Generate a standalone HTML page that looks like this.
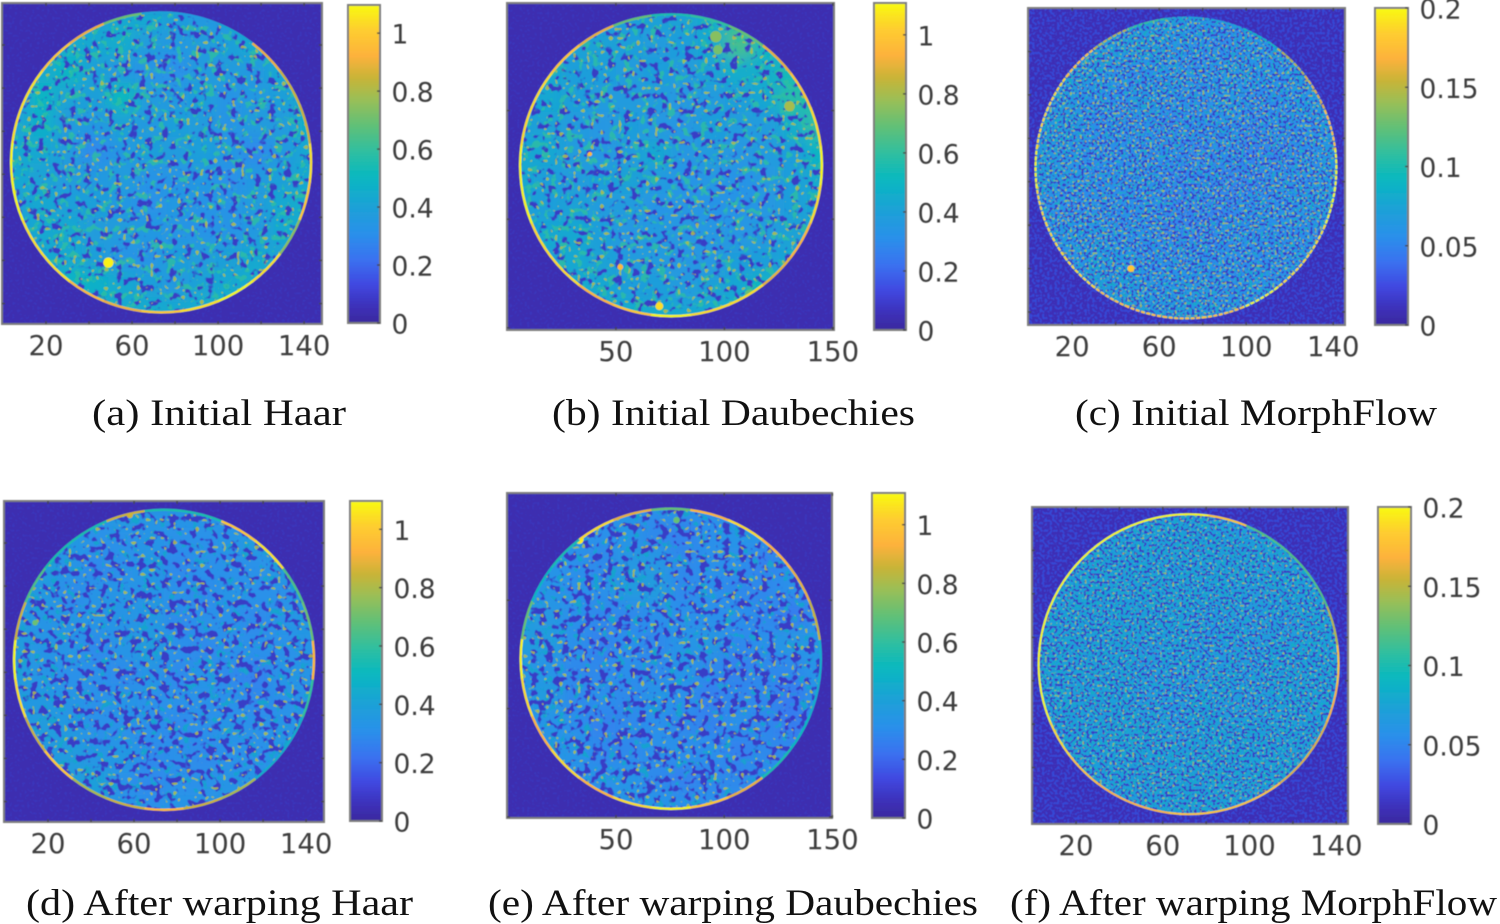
<!DOCTYPE html>
<html lang="en">
<head>
<meta charset="utf-8">
<title>Wavelet and MorphFlow error maps</title>
<style>
html,body{margin:0;padding:0;background:#fff;width:1500px;height:924px;overflow:hidden}
svg{display:block}
.tick{font-family:"DejaVu Sans","Liberation Sans",sans-serif;font-size:26.5px;fill:#3c3c3c}
.tick.xl{font-size:27.5px}
.cap{font-family:"Liberation Serif",serif;font-size:37px;fill:#111}
</style>
</head>
<body>
<svg id="root" xmlns="http://www.w3.org/2000/svg" width="1500" height="924" viewBox="0 0 1500 924">
<defs id="defs"></defs>
<rect x="0" y="0" width="1500" height="924" fill="#fff"/>
<g id="panels"></g>
<text class="cap" x="92" y="425" textLength="254" lengthAdjust="spacingAndGlyphs">(a) Initial Haar</text>
<text class="cap" x="552" y="425" textLength="363" lengthAdjust="spacingAndGlyphs">(b) Initial Daubechies</text>
<text class="cap" x="1075" y="425" textLength="362" lengthAdjust="spacingAndGlyphs">(c) Initial MorphFlow</text>
<text class="cap" x="26" y="915" textLength="387" lengthAdjust="spacingAndGlyphs">(d) After warping Haar</text>
<text class="cap" x="488" y="915" textLength="490" lengthAdjust="spacingAndGlyphs">(e) After warping Daubechies</text>
<text class="cap" x="1010" y="915" textLength="487" lengthAdjust="spacingAndGlyphs">(f) After warping MorphFlow</text>
</svg>
<script>
/* ---------- chart data: values ---------- */
const xTicks140 = [20, 60, 100, 140];
const xTicks150 = [50, 100, 150];
const colorTicksWavelet = [0, 0.2, 0.4, 0.6, 0.8, 1];
const colorTicksFlow = [0, 0.05, 0.1, 0.15, 0.2];
const colorTickLabelsWavelet = ["0", "0.2", "0.4", "0.6", "0.8", "1"];
const colorTickLabelsFlow = ["0", "0.05", "0.1", "0.15", "0.2"];

const cellsInitialHaar = [
[.33,.33,.33,.39,.43,.43,.39,.35,.33,.33,.33,.33],
[.33,.33,.45,.43,.45,.37,.35,.37,.39,.45,.33,.33],
[.35,.43,.49,.39,.35,.33,.31,.37,.37,.35,.43,.43],
[.37,.49,.41,.39,.51,.37,.35,.39,.33,.35,.39,.45],
[.41,.47,.37,.35,.41,.35,.39,.37,.33,.37,.37,.47],
[.43,.43,.37,.29,.35,.39,.37,.39,.35,.29,.35,.43],
[.43,.41,.37,.35,.37,.33,.33,.35,.31,.35,.39,.43],
[.39,.43,.39,.39,.35,.31,.35,.33,.33,.37,.43,.45],
[.39,.43,.43,.37,.37,.35,.33,.33,.33,.35,.43,.45],
[.37,.43,.43,.39,.33,.33,.39,.37,.39,.43,.41,.43],
[.37,.37,.49,.47,.43,.39,.35,.41,.43,.45,.43,.37],
[.33,.37,.43,.45,.43,.45,.43,.45,.49,.43,.37,.33]];
const cellsInitialDaubechies = [
[.33,.33,.33,.37,.39,.41,.41,.46,.60,.43,.33,.33],
[.33,.33,.41,.41,.39,.37,.39,.44,.64,.50,.33,.33],
[.33,.43,.39,.39,.37,.39,.37,.41,.46,.46,.54,.33],
[.39,.43,.39,.37,.37,.37,.35,.37,.39,.43,.58,.56],
[.39,.41,.37,.35,.39,.35,.35,.39,.37,.37,.46,.60],
[.43,.43,.37,.35,.37,.43,.35,.37,.35,.37,.39,.50],
[.43,.39,.37,.39,.41,.37,.33,.35,.33,.35,.39,.45],
[.41,.39,.41,.37,.37,.33,.35,.33,.33,.35,.39,.43],
[.39,.43,.43,.39,.35,.37,.35,.35,.35,.37,.41,.41],
[.37,.41,.43,.41,.37,.37,.35,.35,.39,.39,.43,.39],
[.33,.39,.45,.43,.39,.39,.37,.41,.43,.52,.50,.33],
[.33,.33,.41,.43,.47,.45,.43,.45,.52,.46,.33,.33]];
const cellsInitialFlow = [
[.055,.055,.055,.06,.065,.065,.06,.055,.055,.055,.055,.055],
[.055,.055,.065,.065,.065,.06,.055,.055,.06,.06,.055,.055],
[.055,.065,.065,.055,.055,.06,.055,.06,.06,.055,.065,.055],
[.06,.065,.055,.055,.065,.055,.055,.06,.055,.055,.06,.065],
[.065,.065,.055,.055,.055,.05,.055,.055,.05,.055,.055,.06],
[.065,.06,.055,.055,.055,.055,.05,.055,.05,.05,.055,.06],
[.065,.06,.055,.055,.055,.05,.055,.05,.05,.055,.055,.06],
[.06,.055,.055,.055,.055,.05,.05,.05,.055,.055,.06,.06],
[.06,.06,.06,.055,.055,.05,.05,.055,.055,.055,.055,.06],
[.055,.055,.065,.06,.055,.055,.055,.055,.055,.055,.06,.055],
[.055,.055,.065,.065,.06,.06,.06,.055,.06,.055,.055,.055],
[.055,.055,.055,.065,.065,.065,.065,.06,.06,.055,.055,.055]];
const cellsWarpedHaar = [
[.31,.31,.31,.33,.37,.33,.33,.33,.31,.31,.31,.31],
[.31,.31,.35,.31,.31,.33,.31,.31,.33,.37,.31,.31],
[.31,.37,.33,.29,.31,.35,.29,.31,.31,.31,.37,.31],
[.35,.35,.29,.33,.33,.33,.31,.29,.33,.31,.31,.35],
[.37,.33,.33,.33,.33,.35,.29,.31,.31,.29,.33,.35],
[.37,.33,.33,.29,.33,.37,.31,.29,.31,.31,.31,.33],
[.37,.33,.31,.31,.29,.33,.29,.33,.29,.27,.33,.33],
[.35,.35,.33,.31,.33,.31,.31,.31,.31,.29,.31,.33],
[.35,.37,.35,.31,.31,.31,.29,.31,.33,.31,.33,.33],
[.33,.35,.37,.33,.35,.29,.31,.29,.31,.31,.35,.31],
[.31,.35,.37,.39,.31,.29,.31,.31,.33,.33,.33,.31],
[.31,.31,.35,.37,.33,.31,.33,.33,.35,.33,.31,.31]];
const cellsWarpedDaubechies = [
[.29,.29,.29,.31,.33,.31,.35,.31,.29,.29,.29,.29],
[.29,.29,.35,.31,.33,.29,.27,.31,.33,.33,.29,.29],
[.29,.33,.31,.29,.35,.35,.29,.31,.31,.27,.31,.29],
[.33,.33,.31,.31,.37,.37,.29,.31,.29,.29,.31,.29],
[.37,.35,.31,.29,.29,.31,.31,.31,.31,.29,.25,.31],
[.37,.37,.31,.27,.31,.29,.33,.35,.29,.31,.35,.33],
[.35,.33,.29,.29,.31,.29,.33,.29,.27,.29,.29,.33],
[.33,.37,.29,.31,.29,.33,.31,.27,.29,.29,.25,.33],
[.33,.33,.31,.27,.29,.31,.29,.27,.31,.29,.25,.31],
[.29,.33,.33,.29,.29,.31,.31,.31,.27,.29,.29,.29],
[.29,.31,.31,.31,.33,.29,.27,.29,.29,.31,.31,.29],
[.29,.29,.31,.35,.33,.33,.31,.31,.31,.31,.29,.29]];
const cellsWarpedFlow = [
[.062,.062,.062,.065,.07,.07,.07,.065,.062,.062,.062,.062],
[.062,.062,.07,.07,.07,.07,.07,.07,.07,.07,.062,.062],
[.062,.07,.07,.07,.07,.07,.07,.07,.07,.07,.07,.062],
[.065,.07,.07,.07,.07,.07,.07,.07,.065,.07,.07,.07],
[.07,.07,.07,.07,.07,.07,.065,.065,.065,.065,.07,.07],
[.07,.07,.07,.07,.065,.07,.065,.065,.065,.07,.07,.07],
[.07,.07,.07,.07,.065,.065,.065,.07,.065,.07,.07,.07],
[.07,.07,.07,.07,.065,.065,.07,.065,.065,.07,.07,.07],
[.065,.07,.07,.074,.07,.065,.07,.07,.07,.07,.07,.065],
[.062,.07,.07,.07,.07,.07,.07,.07,.07,.07,.07,.062],
[.062,.062,.07,.07,.07,.07,.07,.07,.07,.07,.062,.062],
[.062,.062,.062,.065,.07,.07,.07,.07,.065,.062,.062,.062]];

/* rim values, one per 15 degree sector, clockwise from east */
const rimInitialHaar = [1.05,1,.75,1.05,1.1,1.05,1,.9,.95,1.05,1.05,1.1,1.1,1.05,1.05,1,.9,.7,.4,.36,.42,.9,.85,.85];
const rimInitialDaubechies = [1.1,1.05,.95,.9,1.05,1.05,1.1,1,.95,1.05,1.05,1.1,1.1,1.05,1.05,1,.9,.7,.55,.6,.7,.9,1,1.05];
const rimInitialFlow = [.2,.2,.19,.19,.2,.18,.18,.18,.18,.19,.19,.19,.2,.19,.19,.18,.15,.11,.075,.075,.09,.15,.16,.18];
const rimWarpedHaar = [.95,.6,.45,.45,.8,.85,.95,.85,.8,1,.85,1.05,1.1,.85,.65,.55,.55,.85,.55,.55,1,1.05,.65,.7];
const rimWarpedDaubechies = [.45,.45,.5,.55,.9,1,1.1,1.05,.95,1.05,.95,1.05,1.1,.7,.5,.55,1.05,.9,.7,.95,1.05,.95,.9,.85];
const rimWarpedFlow = [.18,.17,.16,.16,.18,.18,.18,.17,.17,.18,.19,.2,.2,.2,.2,.2,.2,.2,.2,.18,.12,.12,.12,.15];

/* hot spots: x, y, value, radius (image units) */
const spotsInitialHaar = [[49,121,1.08,2.4]];
const spotsInitialDaubechies = [[70,140,1.05,1.8],[52,122,.95,1.3],[38,70,.95,1],[96,16,.75,2.6],[97,22,.72,2.2],[130,48,.8,2.4],[112,135,.7,2.6]];
const spotsInitialFlow = [[47,120,.18,1.6]];
const spotsWarpedHaar = [[14,57,.7,1.3],[58,7,.85,1.5]];
const spotsWarpedDaubechies = [[33,22,1.08,2],[62,7,1,1.4],[78,13,.7,1.5]];
const spotsWarpedFlow = [];

const backgroundLevels = [0.038, 0.038, 0.009, 0.038, 0.038, 0.009];

/* ---------- parula colour map ---------- */
const cmapStops = [[0,"#3a2a9e"],[.05,"#3d30b8"],[.12,"#4048e0"],[.2,"#3a72f0"],[.28,"#2a90ea"],[.36,"#1ea0d8"],[.46,"#08b8c0"],[.54,"#30bfa0"],[.62,"#60c078"],[.7,"#98bf58"],[.77,"#c8b438"],[.84,"#fdb23c"],[.92,"#fecd30"],[1,"#f8fa10"]];
function hexRgb(h){return [1,3,5].map(i=>parseInt(h.substr(i,2),16));}
function cmap(t){
  t=Math.max(0,Math.min(1,t));
  for(let i=1;i<cmapStops.length;i++){
    if(t<=cmapStops[i][0]){
      const a=cmapStops[i-1],b=cmapStops[i],k=(t-a[0])/(b[0]-a[0]);
      const ca=hexRgb(a[1]),cb=hexRgb(b[1]);
      return "rgb("+ca.map((v,j)=>Math.round(v+(cb[j]-v)*k)).join(",")+")";
    }
  }
  return cmapStops[cmapStops.length-1][1];
}

/* ---------- layout ---------- */
const panels = [
 {key:"a",ax:[2,3,322,324],xlim:[-0.47,148.33],ylim:[0.5,149.5],disk:[73.5,74.5,70.2],cb:[348,380,5,323],max:1.097,xt:xTicks140,ct:colorTicksWavelet,cl:colorTickLabelsWavelet,cells:cellsInitialHaar,rim:rimInitialHaar,spots:spotsInitialHaar,flow:false},
 {key:"b",ax:[507,3,834,330],xlim:[-0.2,150.5],ylim:[0.5,151],disk:[75.4,75.2,70],cb:[874,906,3,330],max:1.108,xt:xTicks150,ct:colorTicksWavelet,cl:colorTickLabelsWavelet,cells:cellsInitialDaubechies,rim:rimInitialDaubechies,spots:spotsInitialDaubechies,flow:false},
 {key:"c",ax:[1028,8,1345,325],xlim:[-0.3,145.4],ylim:[0,146],disk:[72.3,73.7,69.6],cb:[1375,1408,8,325],max:0.2,xt:xTicks140,ct:colorTicksFlow,cl:colorTickLabelsFlow,cells:cellsInitialFlow,rim:rimInitialFlow,spots:spotsInitialFlow,flow:true},
 {key:"d",ax:[4,501,324,822],xlim:[-0.47,148.33],ylim:[0.5,149.5],disk:[73.95,74.2,70.2],cb:[350,382,501,821],max:1.097,xt:xTicks140,ct:colorTicksWavelet,cl:colorTickLabelsWavelet,cells:cellsWarpedHaar,rim:rimWarpedHaar,spots:spotsWarpedHaar,flow:false},
 {key:"e",ax:[507,493,832,818],xlim:[-0.35,149.8],ylim:[0.5,150.5],disk:[75.33,77,69.8],cb:[872,905,493,818],max:1.108,xt:xTicks150,ct:colorTicksWavelet,cl:colorTickLabelsWavelet,cells:cellsWarpedDaubechies,rim:rimWarpedDaubechies,spots:spotsWarpedDaubechies,flow:false},
 {key:"f",ax:[1032,507,1348,824],xlim:[-0.3,145.4],ylim:[0,146],disk:[71.9,72.4,69.6],cb:[1378,1411,507,824],max:0.2,xt:xTicks140,ct:colorTicksFlow,cl:colorTickLabelsFlow,cells:cellsWarpedFlow,rim:rimWarpedFlow,spots:spotsWarpedFlow,flow:true}
];

const NS="http://www.w3.org/2000/svg";
function mk(tag,attrs,parent){
  const e=document.createElementNS(NS,tag);
  for(const k in attrs)e.setAttribute(k,attrs[k]);
  parent.appendChild(e);
  return e;
}
const defs=document.getElementById("defs");
const host=document.getElementById("panels");

/* shared filters */
defs.innerHTML='<filter id="soft" x="-5%" y="-5%" width="110%" height="110%"><feGaussianBlur stdDeviation="0.4"/></filter>'+
 '<filter id="cellBlur" x="-5%" y="-5%" width="110%" height="110%"><feGaussianBlur stdDeviation="7"/></filter>';
function noiseFilter(id,freq,octaves,seed,k,t,rgb){
  return '<filter id="'+id+'" x="0" y="0" width="100%" height="100%" color-interpolation-filters="sRGB">'+
   '<feTurbulence type="fractalNoise" baseFrequency="'+freq+'" numOctaves="'+octaves+'" seed="'+seed+'"/>'+
   '<feColorMatrix type="matrix" values="0 0 0 0 '+rgb[0]/255+' 0 0 0 0 '+rgb[1]/255+' 0 0 0 0 '+rgb[2]/255+' '+k+' 0 0 0 '+(-k*t)+'"/></filter>';
}

panels.forEach((p,pi)=>{
  const [x0,y0,x1,y1]=p.ax;
  const xScale=v=>x0+(v-p.xlim[0])/(p.xlim[1]-p.xlim[0])*(x1-x0);
  const yScale=v=>y0+(v-p.ylim[0])/(p.ylim[1]-p.ylim[0])*(y1-y0);
  const rScale=v=>v/(p.xlim[1]-p.xlim[0])*(x1-x0);
  const colorOf=v=>cmap(v/p.max);
  const cbScale=v=>p.cb[3]-(v/p.max)*(p.cb[3]-p.cb[2]);
  const cx=xScale(p.disk[0]),cy=yScale(p.disk[1]),r=rScale(p.disk[2]);

  const g=mk("g",{filter:"url(#soft)"},host);
  
  

  const clipId="disk-"+p.key;
  const clip=mk("clipPath",{id:clipId},defs);
  mk("circle",{cx:cx,cy:cy,r:r},clip);

  /* filters */
  const seed=pi*7+3;
  const warped=pi>2;
  let f="";
  f+=noiseFilter("speck"+p.key,0.4,1,seed,p.flow?16:8,p.flow?0.52:0.55,hexRgb("#3550e0"));
  f+=noiseFilter("vein"+p.key,p.flow?0.38:0.13,p.flow?1:2,seed+1,p.flow?18:(warped?11:9),p.flow?0.54:(warped?0.545:0.575),hexRgb("#3a38c4"));
  f+=noiseFilter("light"+p.key,p.flow?0.36:0.12,p.flow?1:2,seed+2,p.flow?18:9,p.flow?0.54:(warped?0.6:0.57),hexRgb(p.flow?"#18b0c0":(warped?"#14a8c8":"#30bfa0")));
  f+=noiseFilter("dot"+p.key,p.flow?0.4:0.22,1,seed+3,22,p.flow?(warped?0.66:0.63):0.66,hexRgb("#b4c044"));
  defs.insertAdjacentHTML("beforeend",f);

  /* background */
  const bg=mk("rect",{x:x0,y:y0,width:x1-x0,height:y1-y0,fill:colorOf(backgroundLevels[pi])},g);
  
  
  mk("rect",{x:x0,y:y0,width:x1-x0,height:y1-y0,filter:"url(#speck"+p.key+")",opacity:p.flow?0.8:0.25},g);

  /* disk cells */
  const diskClip=mk("g",{"clip-path":"url(#"+clipId+")"},g);
  
  
  const blurred=mk("g",{filter:"url(#cellBlur)"},diskClip);
  const rows=p.cells.length,cols=p.cells[0].length;
  const spanX=p.xlim[1]-p.xlim[0],spanY=p.ylim[1]-p.ylim[0];
  p.cells.forEach((row,ri)=>{
    row.forEach((val,ci)=>{
      const dx=p.xlim[0]+ci/cols*spanX, dy=p.ylim[0]+ri/rows*spanY;
      const cell=mk("rect",{x:xScale(dx),y:yScale(dy),width:rScale(spanX/cols)+1,height:rScale(spanY/rows)+1,fill:colorOf(val)},blurred);
      
      
    });
  });
  mk("rect",{x:x0,y:y0,width:x1-x0,height:y1-y0,filter:"url(#light"+p.key+")",opacity:p.flow?0.85:0.8},diskClip);
  mk("rect",{x:x0,y:y0,width:x1-x0,height:y1-y0,filter:"url(#vein"+p.key+")",opacity:0.95},diskClip);
  mk("rect",{x:x0,y:y0,width:x1-x0,height:y1-y0,filter:"url(#dot"+p.key+")",opacity:0.85},diskClip);

  /* hot spots */
  p.spots.forEach(s=>{
    const spot=mk("circle",{cx:xScale(s[0]),cy:yScale(s[1]),r:rScale(s[3]),fill:colorOf(s[2])},diskClip);
    
    
  });

  /* rim sectors */
  const n=p.rim.length;
  p.rim.forEach((val,i)=>{
    const a0=i*2*Math.PI/n-Math.PI/n,a1=a0+2*Math.PI/n+0.005;
    const rr=r-1;
    const d="M"+(cx+rr*Math.cos(a0)).toFixed(1)+" "+(cy+rr*Math.sin(a0)).toFixed(1)+"A"+rr+" "+rr+" 0 0 1 "+(cx+rr*Math.cos(a1)).toFixed(1)+" "+(cy+rr*Math.sin(a1)).toFixed(1);
    const arc=mk("path",{d:d,fill:"none",stroke:colorOf(val),"stroke-width":p.flow?1.9:2.3},g);
    if(p.flow&&!warped)arc.setAttribute("stroke-dasharray","4 1.5");
    
    
  });

  /* axes frame and ticks */
  const frame=mk("rect",{x:x0,y:y0,width:x1-x0,height:y1-y0,fill:"none",stroke:"#7d7d7d","stroke-width":2},g);
  
  
  const minor=p.xt===xTicks150?50:20;
  for(let v=minor;v<=p.xlim[1]+1;v+=minor){
    const tx=mk("path",{d:"M"+xScale(v)+" "+y1+"v-3M"+xScale(v)+" "+y0+"v3",stroke:"#444","stroke-width":1.4},g);
    
    
    const ty=mk("path",{d:"M"+x0+" "+yScale(v)+"h3M"+x1+" "+yScale(v)+"h-3",stroke:"#444","stroke-width":1.4},g);
    
    
  }
  p.xt.forEach(v=>{
    const t=mk("text",{x:xScale(v),y:y1+22,"text-anchor":"middle","dominant-baseline":"central","class":"tick xl"},g);
    t.textContent=String(v);
    
    
  });

  /* colour bar */
  const gradId="grad-"+p.key;
  const grad=mk("linearGradient",{id:gradId,x1:0,y1:1,x2:0,y2:0},defs);
  cmapStops.forEach(s=>mk("stop",{offset:s[0],"stop-color":s[1]},grad));
  const bar=mk("rect",{x:p.cb[0],y:p.cb[2],width:p.cb[1]-p.cb[0],height:p.cb[3]-p.cb[2],fill:"url(#"+gradId+")",stroke:"#7d7d7d","stroke-width":2},g);
  
  
  p.ct.forEach((v,i)=>{
    const m=mk("path",{d:"M"+p.cb[1]+" "+cbScale(v)+"h-3",stroke:"#444","stroke-width":1.4},g);
    
    
    const t=mk("text",{x:p.cb[1]+11.5,y:cbScale(v)+2,"dominant-baseline":"central","class":"tick"},g);
    t.textContent=p.cl[i];
    
    
  });
});
</script>
</body>
</html>
